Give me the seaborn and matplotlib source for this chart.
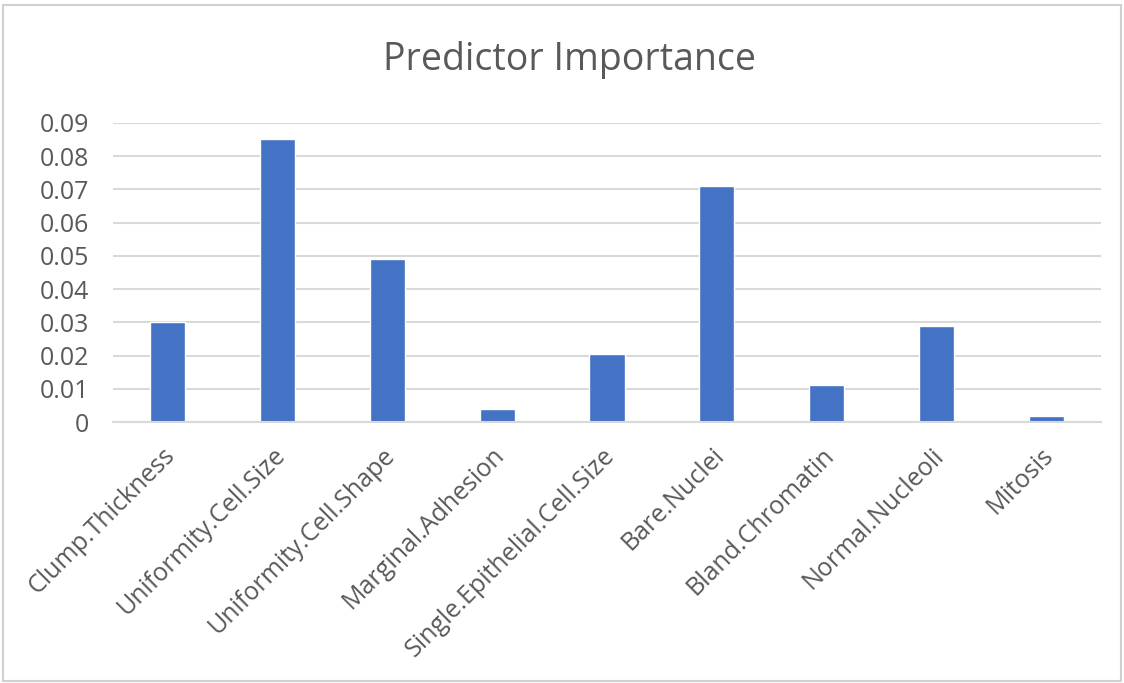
import pandas as pd
import numpy as np
import seaborn as sns
import matplotlib.pyplot as plt
import matplotlib.transforms as mtransforms
from matplotlib.patches import Rectangle

# predictor importance values
predictors = ["Clump.Thickness", "Uniformity.Cell.Size", "Uniformity.Cell.Shape",
              "Marginal.Adhesion", "Single.Epithelial.Cell.Size", "Bare.Nuclei",
              "Bland.Chromatin", "Normal.Nucleoli", "Mitosis"]
importance = [0.030, 0.0853, 0.049, 0.0039, 0.0206, 0.0711, 0.0112, 0.029, 0.0017]
yticks = [0, 0.01, 0.02, 0.03, 0.04, 0.05, 0.06, 0.07, 0.08, 0.09]

df = pd.DataFrame({"predictor": predictors, "importance": importance})

sns.set_theme(style="white")
plt.rcParams['font.family'] = ['Open Sans', 'DejaVu Sans']
textgrey = "#595959"

fig = plt.figure(figsize=(11.24, 6.83), dpi=100)
ax = fig.add_axes([0.1005, 0.382, 0.879, 0.438])

sns.barplot(data=df, x="predictor", y="importance", color="#4472C4",
            width=0.32, saturation=1, ax=ax)

ax.set_ylim(0, 0.09)
ax.set_yticks(yticks)
ax.set_yticklabels(["0" if v == 0 else f"{v:.2f}" for v in yticks])
ax.set_xlim(-0.5, len(predictors) - 0.5)
ax.yaxis.grid(True, color="#D9D9D9", linewidth=1.5)
ax.set_axisbelow(True)
for s in ["left", "right", "top"]:
    ax.spines[s].set_visible(False)
ax.spines["bottom"].set_color("#D9D9D9")
ax.spines["bottom"].set_linewidth(1.5)
ax.tick_params(axis="both", length=0, colors=textgrey)
ax.tick_params(axis="y", pad=17, labelsize=18)
ax.tick_params(axis="x", pad=15, labelsize=18)
# nudge rotated labels a few pixels left, like excel places them
shift = mtransforms.ScaledTranslation(-5 / 100, 0, fig.dpi_scale_trans)
for lab in ax.get_xticklabels():
    lab.set_rotation(45)
    lab.set_ha("right")
    lab.set_rotation_mode("anchor")
    lab.set_transform(lab.get_transform() + shift)
ax.set_xlabel("")
ax.set_ylabel("")

fig.text(0.507, 0.912, "Predictor Importance", ha="center", va="center",
         fontsize=27, color=textgrey)

# light frame around the chart
fig.patches.append(Rectangle((0.003, 0.003), 0.994, 0.99, transform=fig.transFigure,
                             fill=False, edgecolor="#D0D0D0", linewidth=1.5))

plt.savefig("out.png", dpi=100)
plt.close()
